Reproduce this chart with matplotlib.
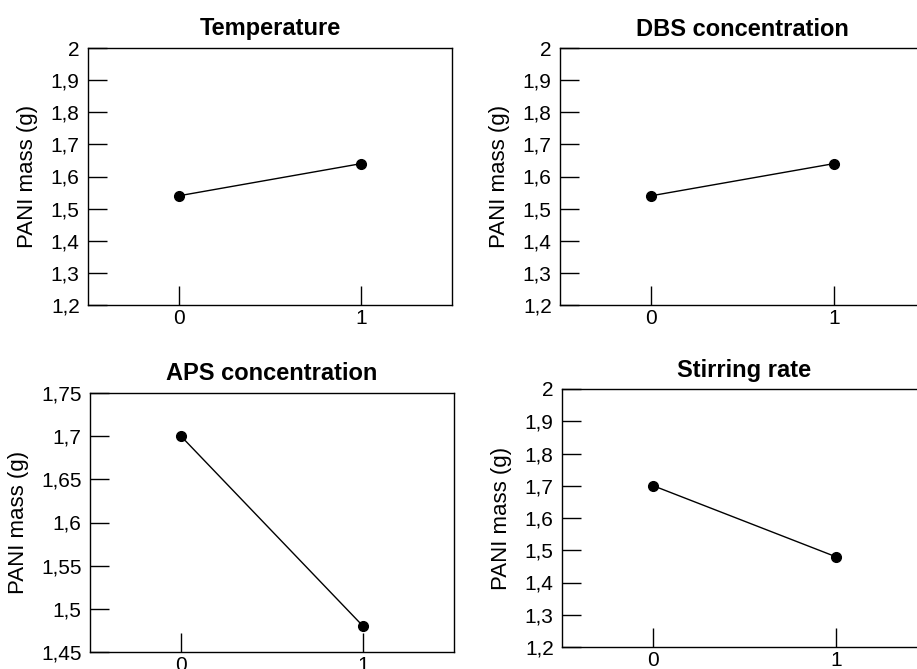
import matplotlib
matplotlib.use("Agg")
import matplotlib.pyplot as plt

plt.rcParams['font.family'] = ['Liberation Sans', 'DejaVu Sans']

# Data
levels = [0, 1]
titles = ['Temperature', 'DBS concentration', 'APS concentration', 'Stirring rate']
temperature = [1.54, 1.64]
dbs = [1.54, 1.64]
aps = [1.70, 1.48]
stirring = [1.70, 1.48]

ticks_a = [1.2, 1.3, 1.4, 1.5, 1.6, 1.7, 1.8, 1.9, 2.0]
labels_a = ['1,2', '1,3', '1,4', '1,5', '1,6', '1,7', '1,8', '1,9', '2']
ticks_b = [1.45, 1.5, 1.55, 1.6, 1.65, 1.7, 1.75]
labels_b = ['1,45', '1,5', '1,55', '1,6', '1,65', '1,7', '1,75']

W, H = 917, 669
fig = plt.figure(figsize=(W / 100, H / 100), dpi=100)

# axes boxes in pixels: left, top, right, bottom
boxes = [(88, 48, 452, 305), (560, 48, 925, 305),
         (90, 393, 454, 652), (562, 389, 927, 647)]
series = [temperature, dbs, aps, stirring]
yticks = [(ticks_a, labels_a), (ticks_a, labels_a), (ticks_b, labels_b), (ticks_a, labels_a)]

for (l, t, r, b), vals, title, (tk, lb) in zip(boxes, series, titles, yticks):
    ax = fig.add_axes([l / W, (H - b) / H, (r - l) / W, (b - t) / H])
    ax.plot(levels, vals, color='black', lw=1.0, marker='o', ms=7, clip_on=False, zorder=3)
    ax.set_xlim(-0.5, 1.5)
    ax.set_ylim(tk[0], tk[-1])
    ax.set_xticks(levels)
    ax.set_xticklabels([str(v) for v in levels])
    ax.set_yticks(tk)
    ax.set_yticklabels(lb)
    ax.tick_params(direction='in', length=14, width=1, labelsize=15, pad=3)
    ax.tick_params(axis='y', pad=6)
    for s in ax.spines.values():
        s.set_linewidth(1)
    ax.set_title(title, fontsize=17, fontweight='bold', pad=9)
    ax.set_ylabel('PANI mass (g)', fontsize=16, labelpad=9)

fig.savefig('out.png', dpi=100)
